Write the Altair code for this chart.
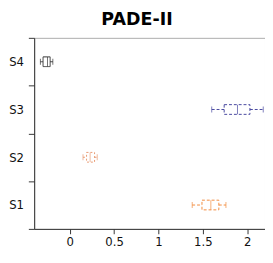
import altair as alt
import pandas as pd

series = ["S1", "S2", "S3", "S4"]
mins = [1.38, 0.15, 1.60, -0.33]
q1s = [1.49, 0.19, 1.74, -0.30]
medians = [1.59, 0.23, 1.89, -0.25]
q3s = [1.68, 0.28, 2.03, -0.22]
maxs = [1.76, 0.31, 2.18, -0.19]
colors = ["#f28a3c", "#e89a72", "#45459e", "#333333"]
dashes = ["dash", "dot", "dash", "solid"]

df = pd.DataFrame({"s": series, "mn": mins, "q1": q1s, "md": medians,
                   "q3": q3s, "mx": maxs, "dash": dashes})

xscale = alt.Scale(domain=[-0.4, 2.2], nice=False, zero=False)
yscale = alt.Scale(domain=["S4", "S3", "S2", "S1"], paddingInner=0, paddingOuter=0)
color = alt.Color("s:N", scale=alt.Scale(domain=series, range=colors), legend=None)
dash = alt.StrokeDash("dash:N", scale=alt.Scale(domain=["dash", "dot", "solid"],
                                                 range=[[3, 2], [2, 2], [1, 0]]), legend=None)

xaxis = alt.Axis(values=[0, 0.5, 1, 1.5, 2], format="~g", title=None, grid=False,
                 labelFontSize=12, tickSize=5, labelPadding=3, domainColor="#333",
                 tickColor="#333", labelColor="#111", labelFont="DejaVu Sans")
yaxis = alt.Axis(title=None, grid=False, labelFontSize=12, tickSize=6, labelPadding=5,
                 tickBand="extent", domainColor="#333", tickColor="#333",
                 labelColor="#111", labelFont="DejaVu Sans")

base = alt.Chart(df)
y = alt.Y("s:N", scale=yscale, axis=yaxis)

w1 = base.mark_rule(strokeWidth=1).encode(
    x=alt.X("mn:Q", scale=xscale, axis=xaxis), x2="q1:Q", y=y, color=color, strokeDash=dash)
w2 = base.mark_rule(strokeWidth=1).encode(
    x=alt.X("q3:Q", scale=xscale), x2="mx:Q", y=y, color=color, strokeDash=dash)
box = base.mark_bar(size=10, fillOpacity=0, strokeWidth=1).encode(
    x=alt.X("q1:Q", scale=xscale), x2="q3:Q", y=y, stroke=color, strokeDash=dash)
med = base.mark_tick(size=10, thickness=1, orient="vertical").encode(
    x=alt.X("md:Q", scale=xscale), y=y, color=color)
capl = base.mark_tick(size=6, thickness=1, orient="vertical").encode(
    x=alt.X("mn:Q", scale=xscale), y=y, color=color)
capr = base.mark_tick(size=6, thickness=1, orient="vertical").encode(
    x=alt.X("mx:Q", scale=xscale), y=y, color=color)

chart = alt.layer(w1, w2, box, med, capl, capr).properties(
    width=238, height=197,
    title=alt.Title("PADE-II", fontSize=18, fontWeight="bold", font="DejaVu Sans",
                    color="#000", offset=3, dx=-13),
    padding={"left": 0, "top": 0, "right": 0, "bottom": 0},
).configure_view(stroke="#aaaaaa", strokeWidth=1)

chart.save("out.html", embed_options={"renderer": "svg", "actions": False})
